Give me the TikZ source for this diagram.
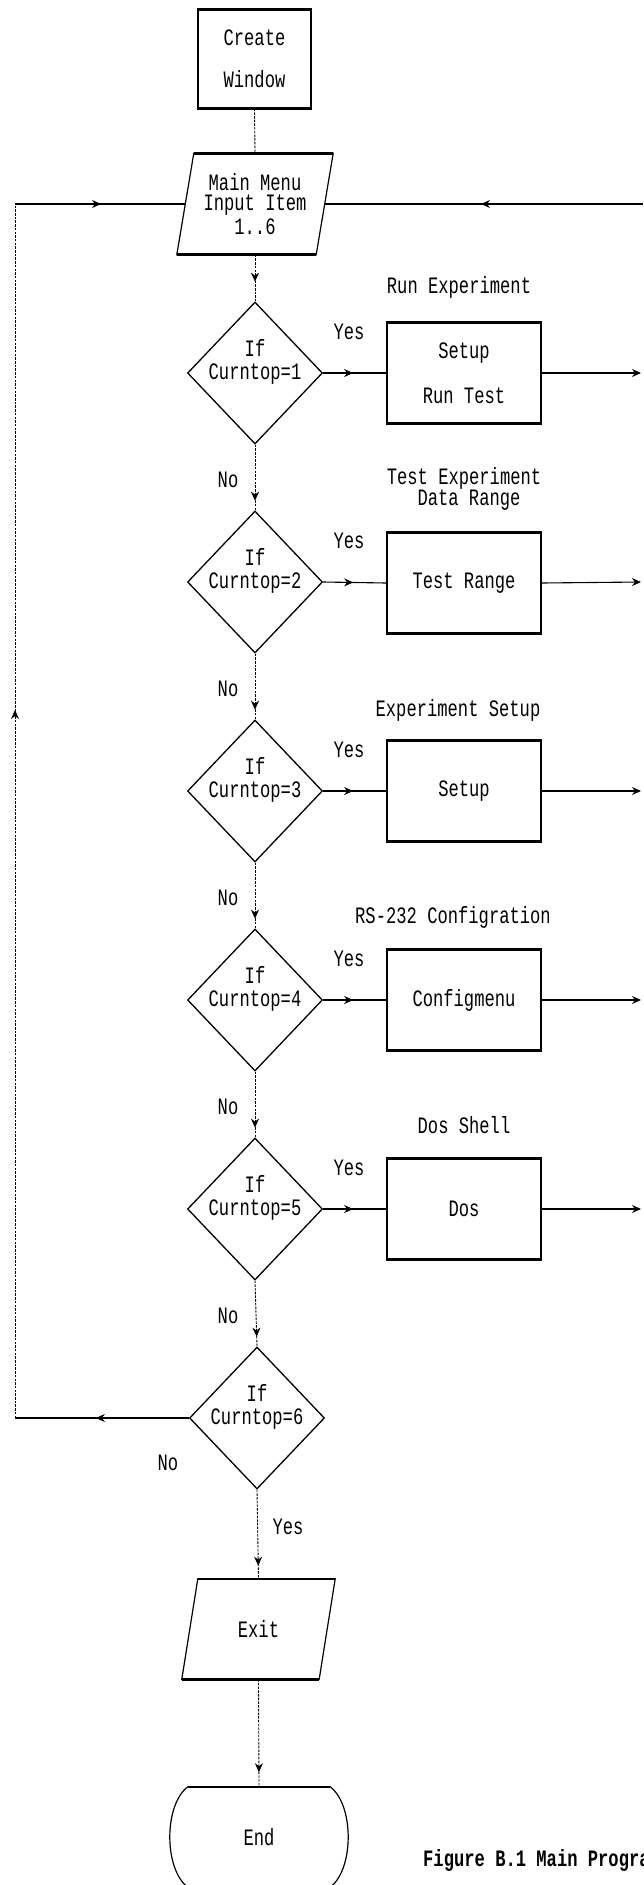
\documentclass[tikz,border=0pt]{standalone}
\usepackage{fontspec}
\usetikzlibrary{shapes.geometric,arrows.meta,decorations.markings}
\newfontfamily\dmfont[FakeStretch=0.73]{Liberation Mono}
\newcommand\dmtext{\dmfont\fontsize{23.5}{18}\selectfont}
\begin{document}
\begin{tikzpicture}[x=1pt,y=-1pt,
  txt/.style={font=\dmtext, inner sep=0pt, align=center},
  procbox/.style={draw, line width=1.2pt, minimum width=154pt, minimum height=100pt, inner sep=0pt, font=\dmtext, align=center},
  decision/.style={diamond, draw, line width=1.3pt, minimum width=135pt, minimum height=142pt, inner sep=0pt},
  ghost/.style={inner sep=0pt, font=\dmtext, align=center},
  thickrim/.style={line width=2.6pt},
  outline/.style={line width=1.2pt},
  vconn/.style={line width=0.9pt, dash pattern=on 2.5pt off 1.2pt},
  hconn/.style={line width=1.1pt},
  arrowat/.style={postaction={decorate, decoration={markings, mark=at position #1 with {\arrow{Stealth[length=9pt,width=8pt]}}}}},
  endtip/.style={-{Stealth[length=9pt,width=8pt]}}
]
\useasboundingbox (0,0) rectangle (643,1885);
\clip (0,0) rectangle (643,1885);

% Create Window
\node[draw, outline, minimum width=113pt, minimum height=98pt, inner sep=0pt, font=\dmtext, align=center] (cw) at (254.5,59) {Create\\[24pt]Window};
\draw[thickrim] (cw.north west) -- (cw.north east);
\draw[thickrim] (cw.south west) -- (cw.south east);

% Main Menu parallelogram
\node[ghost, minimum width=139pt, minimum height=101pt] (mm) at (255,204) {Main Menu\\[2.5pt]Input Item\\[2.5pt]1..6};
\draw[outline] ([xshift=8.5pt]mm.north west) -- ([xshift=8.5pt]mm.north east) -- ([xshift=-8.5pt]mm.south east) -- ([xshift=-8.5pt]mm.south west) -- cycle;
\draw[thickrim] ([xshift=8.5pt]mm.north west) -- ([xshift=8.5pt]mm.north east);
\draw[thickrim] ([xshift=-8.5pt]mm.south west) -- ([xshift=-8.5pt]mm.south east);

\draw[vconn] (cw.south) -- (mm.north);

% decisions and boxes
\foreach \i/\cy in {1/373,2/582,3/791,4/1000,5/1209} {
  \node[decision] (d\i) at (255,\cy) {};
  \node[txt] (dt\i) at (255,\cy-11.5) {If\\[5pt]Curntop=\i};
  \node[txt] (ys\i) at (349,\cy-41) {Yes};
  \node[txt] (no\i) at (228,\cy+107) {No};
  \coordinate (r\i) at (641,\cy);
}
\node[decision] (d6) at (257,1418) {};
\node[txt] (dt6) at (257,1418-11.5) {If\\[5pt]Curntop=6};

\node[procbox] (b1) at (464,373) {Setup\\[23pt]Run Test};
\node[procbox] (b2) at (464,583) {Test Range};
\node[procbox] (b3) at (464,791) {Setup};
\node[procbox] (b4) at (464,1000) {Configmenu};
\node[procbox] (b5) at (464,1209) {Dos};
\foreach \i in {1,...,5} {
  \draw[thickrim] (b\i.north west) -- (b\i.north east);
  \draw[thickrim] (b\i.south west) -- (b\i.south east);
  \draw[hconn, arrowat=30pt] (d\i.east) -- (b\i.west);
  \draw[hconn, endtip] (b\i.east) -- (r\i);
}

% titles
\node[txt] (t1) at (459,287) {Run Experiment};
\node[txt] (t2a) at (464,478) {Test Experiment};
\node[txt] (t2b) at (469,500) {Data Range};
\node[txt] (t3) at (458,710) {Experiment Setup};
\node[txt] (t4) at (453,917) {RS-232 Configration};
\node[txt] (t5) at (464,1125) {Dos Shell};

% vertical flow
\draw[vconn, arrowat=27pt] (mm.south) -- (d1.north);
\foreach \i/\j in {1/2,2/3,3/4,4/5,5/6} {
  \draw[vconn, arrowat=56pt] (d\i.south) -- (d\j.north);
}

% Exit and End
\node[ghost, minimum width=137pt, minimum height=100pt] (ex) at (258.5,1629) {Exit};
\draw[outline] ([xshift=8pt]ex.north west) -- ([xshift=8pt]ex.north east) -- ([xshift=-8pt]ex.south east) -- ([xshift=-8pt]ex.south west) -- cycle;
\draw[thickrim] ([xshift=8pt]ex.north west) -- ([xshift=8pt]ex.north east);
\draw[thickrim] ([xshift=-8pt]ex.south west) -- ([xshift=-8pt]ex.south east);

\node[ghost, minimum width=142pt, minimum height=100pt] (en) at (259,1837) {End};
\draw[outline] (en.north west) -- (en.north east)
  .. controls ([xshift=24pt,yshift=-18pt]en.north east) and ([xshift=24pt,yshift=18pt]en.south east) .. (en.south east)
  -- (en.south west)
  .. controls ([xshift=-24pt,yshift=18pt]en.south west) and ([xshift=-24pt,yshift=-18pt]en.north west) .. (en.north west);
\draw[thickrim] (en.north west) -- (en.north east);

\draw[vconn, arrowat=76pt] (d6.south) -- (ex.north);
\draw[vconn, arrowat=93pt] (ex.south) -- (en.north);
\node[txt] (no6) at (168,1463) {No};
\node[txt] (ys6) at (288,1527) {Yes};

% loop back
\coordinate (lb) at (15,1418);
\coordinate (lt) at (15,204);
\coordinate (rt) at (643,204);
\draw[hconn, arrowat=93pt] (d6.west) -- (lb);
\draw[vconn, arrowat=708pt] (lb) -- (lt);
\draw[hconn, arrowat=86pt] (lt) -- (mm.west);
\draw[hconn, arrowat=162pt] (rt) -- (mm.east);

% caption
\node[txt, font=\dmtext\bfseries, anchor=west] (cap) at (423,1860) {Figure B.1 Main Progra};
\end{tikzpicture}
\end{document}
